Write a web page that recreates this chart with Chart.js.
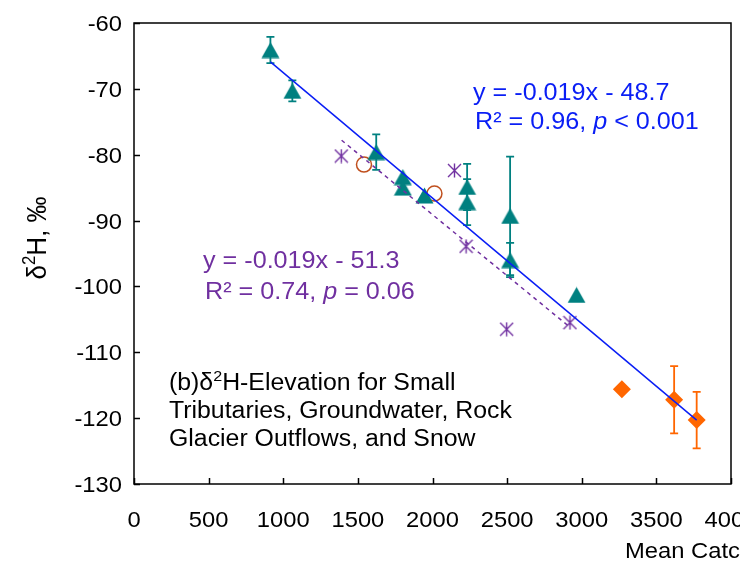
<!DOCTYPE html>
<html>
<head>
<meta charset="utf-8">
<script src="https://cdn.jsdelivr.net/npm/chart.js@4.4.0/dist/chart.umd.min.js"></script>
<style>
html, body { margin: 0; padding: 0; background: #fff; }
#wrap { width: 740px; height: 564px; position: relative; }
</style>
</head>
<body>
<div id="wrap"><canvas id="chart"></canvas></div>
<script>
// values (x = mean catchment elevation, m ; y = d2H, permil)
var tribX   = [914, 1061, 1623, 1801, 1801, 1946, 2232, 2232, 2520, 2520, 2965];
var tribY   = [-64.1, -70.3, -79.6, -83.4, -85.0, -86.2, -84.9, -87.2, -89.3, -96.0, -101.3];
var tribErr = [2.0, 1.6, 2.7, 0, 0, 0, 3.5, 3.5, 9.0, 2.6, 0];

var gwX = [1389, 2147, 2225, 2497, 2921];
var gwY = [-80.2, -82.4, -93.9, -106.5, -105.5];

var rockX = [1541, 2013];
var rockY = [-81.5, -85.9];

var snowX   = [3269, 3619, 3770];
var snowY   = [-115.6, -117.2, -120.3];
var snowErr = [0, 5.1, 4.3];

// trend line end points
var fitAllX = [914, 3770];
var fitAllY = [-65.9, -120.3];
var fitGwX  = [1391, 2916];
var fitGwY  = [-77.8, -106.1];

var xTicks = [0, 500, 1000, 1500, 2000, 2500, 3000, 3500, 4000];
var yTicks = [-60, -70, -80, -90, -100, -110, -120, -130];

var TEAL = '#008080';
var ORANGE = '#FF6600';
var PURPLE = '#7030A0';
var BROWN = '#C0501E';
var BLUE = '#0A1EF5';
var FONT = '"Liberation Sans", Arial, sans-serif';
var SX = 1.08; // text in the figure is a bit wider than plain Arial

function pts(xs, ys) {
	var out = [];
	for (var i = 0; i < xs.length; i++) out.push({ x: xs[i], y: ys[i] });
	return out;
}

// marker images
function triangleImg() {
	var c = document.createElement('canvas');
	c.width = 19; c.height = 17;
	var g = c.getContext('2d');
	g.fillStyle = TEAL;
	g.beginPath();
	g.moveTo(9.5, 0.5);
	g.lineTo(18.5, 16.5);
	g.lineTo(0.5, 16.5);
	g.closePath();
	g.fill();
	return c;
}
function starImg() {
	var c = document.createElement('canvas');
	c.width = 15; c.height = 15;
	var g = c.getContext('2d');
	g.strokeStyle = PURPLE;
	g.lineWidth = 1.4;
	g.beginPath();
	g.moveTo(1, 1); g.lineTo(14, 14);
	g.moveTo(14, 1); g.lineTo(1, 14);
	g.moveTo(7.5, 0.5); g.lineTo(7.5, 14.5);
	g.stroke();
	return c;
}

function drawRuns(ctx, runs, x, y, size, color, align) {
	ctx.save();
	ctx.fillStyle = color;
	ctx.textBaseline = 'alphabetic';
	ctx.textAlign = 'left';
	var fontOf = function(r) {
		return (r.i ? 'italic ' : '') + (r.sup ? size * 0.65 : size) + 'px ' + FONT;
	};
	var w = 0;
	runs.forEach(function(r) { ctx.font = fontOf(r); w += ctx.measureText(r.t).width; });
	ctx.translate(x, y);
	ctx.scale(SX, 1);
	var cx = align === 'right' ? -w : (align === 'center' ? -w / 2 : 0);
	runs.forEach(function(r) {
		ctx.font = fontOf(r);
		ctx.fillText(r.t, cx, r.sup ? -size * 0.38 : 0);
		cx += ctx.measureText(r.t).width;
	});
	ctx.restore();
}

var errorBars = {
	id: 'errorBars',
	beforeDatasetsDraw: function(chart) {
		var ctx = chart.ctx, xs = chart.scales.x, ys = chart.scales.y;
		var sets = [[tribX, tribY, tribErr, TEAL], [snowX, snowY, snowErr, ORANGE]];
		ctx.save();
		ctx.lineWidth = 1.8;
		sets.forEach(function(s) {
			ctx.strokeStyle = s[3];
			for (var i = 0; i < s[0].length; i++) {
				if (!s[2][i]) continue;
				var px = xs.getPixelForValue(s[0][i]);
				var top = ys.getPixelForValue(s[1][i] + s[2][i]);
				var bot = ys.getPixelForValue(s[1][i] - s[2][i]);
				ctx.beginPath();
				ctx.moveTo(px, top); ctx.lineTo(px, bot);
				ctx.moveTo(px - 4, top); ctx.lineTo(px + 4, top);
				ctx.moveTo(px - 4, bot); ctx.lineTo(px + 4, bot);
				ctx.stroke();
			}
		});
		ctx.restore();
	}
};

var frameAndText = {
	id: 'frameAndText',
	afterDraw: function(chart) {
		var ctx = chart.ctx, a = chart.chartArea, xs = chart.scales.x, ys = chart.scales.y;
		ctx.save();
		// frame + inner ticks
		ctx.strokeStyle = '#000';
		ctx.lineWidth = 1.5;
		ctx.strokeRect(a.left, a.top, a.right - a.left, a.bottom - a.top);
		ctx.beginPath();
		xTicks.forEach(function(v) {
			var px = Math.round(xs.getPixelForValue(v)) + 0.5;
			ctx.moveTo(px, a.bottom); ctx.lineTo(px, a.bottom - 6);
		});
		yTicks.forEach(function(v) {
			var py = Math.round(ys.getPixelForValue(v)) + 0.5;
			ctx.moveTo(a.left, py); ctx.lineTo(a.left + 6, py);
		});
		ctx.stroke();
		ctx.restore();

		// tick labels
		xTicks.forEach(function(v) {
			drawRuns(ctx, [{ t: String(v) }], xs.getPixelForValue(v), a.bottom + 43, 22, '#000', 'center');
		});
		yTicks.forEach(function(v) {
			drawRuns(ctx, [{ t: String(v) }], a.left - 12, ys.getPixelForValue(v) + 8, 22, '#000', 'right');
		});

		// axis titles
		drawRuns(ctx, [{ t: 'Mean Catchment Elevation, m' }], 625, 558, 22, '#000', 'left');
		ctx.save();
		ctx.translate(46, 238);
		ctx.rotate(-Math.PI / 2);
		ctx.scale(1, SX);
		ctx.fillStyle = '#000';
		var runs = [{ t: '\u03b4' }, { t: '2', sup: true }, { t: 'H, \u2030' }];
		var sz = 26, w = 0;
		runs.forEach(function(r) { ctx.font = (r.sup ? sz * 0.65 : sz) + 'px ' + FONT; w += ctx.measureText(r.t).width; });
		var cx = -w / 2;
		runs.forEach(function(r) {
			ctx.font = (r.sup ? sz * 0.65 : sz) + 'px ' + FONT;
			ctx.fillText(r.t, cx, r.sup ? -sz * 0.38 : 0);
			cx += ctx.measureText(r.t).width;
		});
		ctx.restore();

		// regression labels
		drawRuns(ctx, [{ t: 'y = -0.019x - 48.7' }], 473, 100, 23.3, BLUE, 'left');
		drawRuns(ctx, [{ t: 'R\u00b2 = 0.96, ' }, { t: 'p', i: true }, { t: ' < 0.001' }], 475, 129, 23.3, BLUE, 'left');
		drawRuns(ctx, [{ t: 'y = -0.019x - 51.3' }], 203, 268, 23.3, PURPLE, 'left');
		drawRuns(ctx, [{ t: 'R\u00b2 = 0.74, ' }, { t: 'p', i: true }, { t: ' = 0.06' }], 205, 299, 23.3, PURPLE, 'left');

		// panel caption
		drawRuns(ctx, [{ t: '(b)\u03b4' }, { t: '2', sup: true }, { t: 'H-Elevation for Small' }], 169, 390, 23, '#000', 'left');
		drawRuns(ctx, [{ t: 'Tributaries, Groundwater, Rock' }], 169, 418, 23, '#000', 'left');
		drawRuns(ctx, [{ t: 'Glacier Outflows, and Snow' }], 169, 446, 23, '#000', 'left');
	}
};

var chart = new Chart(document.getElementById('chart'), {
	type: 'scatter',
	data: {
		datasets: [
			{
				label: 'all',
				type: 'line',
				data: pts(fitAllX, fitAllY),
				borderColor: BLUE,
				borderWidth: 1.5,
				pointRadius: 0,
				fill: false
			},
			{
				label: 'groundwater fit',
				type: 'line',
				data: pts(fitGwX, fitGwY),
				borderColor: PURPLE,
				borderWidth: 1.5,
				borderDash: [4, 4],
				pointRadius: 0,
				fill: false
			},
			{
				label: 'Small tributaries',
				data: pts(tribX, tribY),
				pointStyle: triangleImg()
			},
			{
				label: 'Groundwater',
				data: pts(gwX, gwY),
				pointStyle: starImg()
			},
			{
				label: 'Rock glacier outflows',
				data: pts(rockX, rockY),
				pointStyle: 'circle',
				pointRadius: 7.5,
				borderWidth: 1.5,
				borderColor: BROWN,
				backgroundColor: 'rgba(0,0,0,0)'
			},
			{
				label: 'Snow',
				data: pts(snowX, snowY),
				pointStyle: 'rectRot',
				pointRadius: 9,
				borderWidth: 0,
				backgroundColor: ORANGE,
				borderColor: ORANGE
			}
		]
	},
	options: {
		responsive: true,
		maintainAspectRatio: false,
		animation: false,
		layout: { padding: { left: 0, right: 8, top: 23, bottom: 0 } },
		plugins: {
			legend: { display: false },
			tooltip: { enabled: false }
		},
		scales: {
			x: {
				type: 'linear',
				min: 0,
				max: 4000,
				ticks: { display: false, stepSize: 500 },
				grid: { display: false },
				border: { display: false },
				afterFit: function(s) { s.height = 80; }
			},
			y: {
				type: 'linear',
				min: -130,
				max: -60,
				ticks: { display: false, stepSize: 10 },
				grid: { display: false },
				border: { display: false },
				afterFit: function(s) { s.width = 134; }
			}
		}
	},
	plugins: [errorBars, frameAndText]
});
</script>
</body>
</html>
